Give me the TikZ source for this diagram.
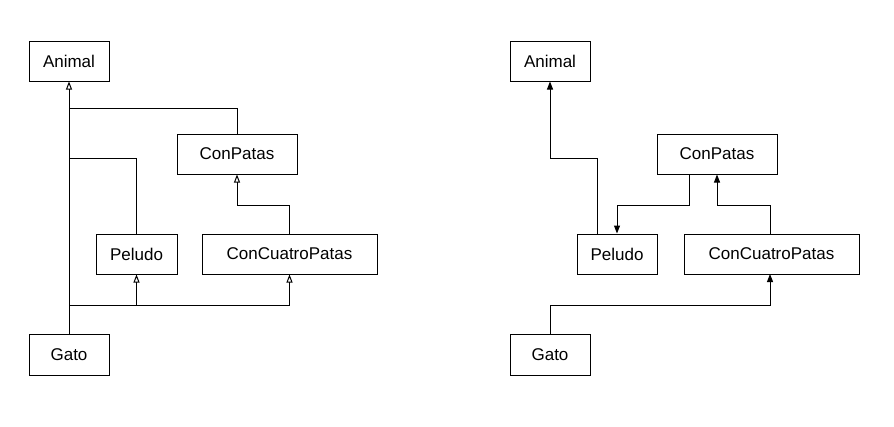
\documentclass[tikz,border=0pt]{standalone}
\usepackage{fontspec}
\setmainfont{Liberation Sans}
\usetikzlibrary{arrows.meta}
\begin{document}
\begin{tikzpicture}[x=1pt,y=-1pt,
 cls/.style={draw,line width=1pt,inner sep=0pt,font=\fontsize{17}{20}\selectfont},
 gen/.style={line width=1pt,-{Triangle[open,length=8pt,width=6pt]}},
 asc/.style={line width=1pt,-{Triangle[length=8pt,width=6pt]}}]
\useasboundingbox (0,0) rectangle (894,426);
% left
\node[cls,minimum width=80,minimum height=40] (A) at (69,61) {Animal};
\node[cls,minimum width=120,minimum height=40] (CP) at (237,154) {ConPatas};
\node[cls,minimum width=81,minimum height=40] (P) at (136.5,254) {Peludo};
\node[cls,minimum width=175,minimum height=40] (CC) at (289.5,254) {ConCuatroPatas};
\node[cls,minimum width=80,minimum height=41] (G) at (69,354.5) {Gato};
\coordinate (j1) at (69,108); \coordinate (j2) at (69,158); \coordinate (j3) at (69,305);
\draw[gen] (G.north) -- (A.south);
\draw[line width=1pt] (j1) -| (CP.north);
\draw[line width=1pt] (j2) -| (P.north);
\draw[gen] (j3) -| (P.south);
\draw[gen] (j3) -| (CC.south);
\draw[gen] (CC.north) |- (237,205) -- (CP.south);
% right
\node[cls,minimum width=80,minimum height=40] (A2) at (550,61) {Animal};
\node[cls,minimum width=120,minimum height=40] (CP2) at (717,154) {ConPatas};
\node[cls,minimum width=80,minimum height=40] (P2) at (617,254) {Peludo};
\node[cls,minimum width=175,minimum height=40] (CC2) at (771.5,254) {ConCuatroPatas};
\node[cls,minimum width=80,minimum height=41] (G2) at (550,354.5) {Gato};
\draw[asc] (597,234) |- (550,158) -- (A2.south);
\draw[asc] (689,174) |- (617,205) -- (P2.north);
\draw[asc] (770,234) |- (717,205) -- (CP2.south);
\draw[asc] (G2.north) |- (770,305) -- (770,274);
\end{tikzpicture}
\end{document}
